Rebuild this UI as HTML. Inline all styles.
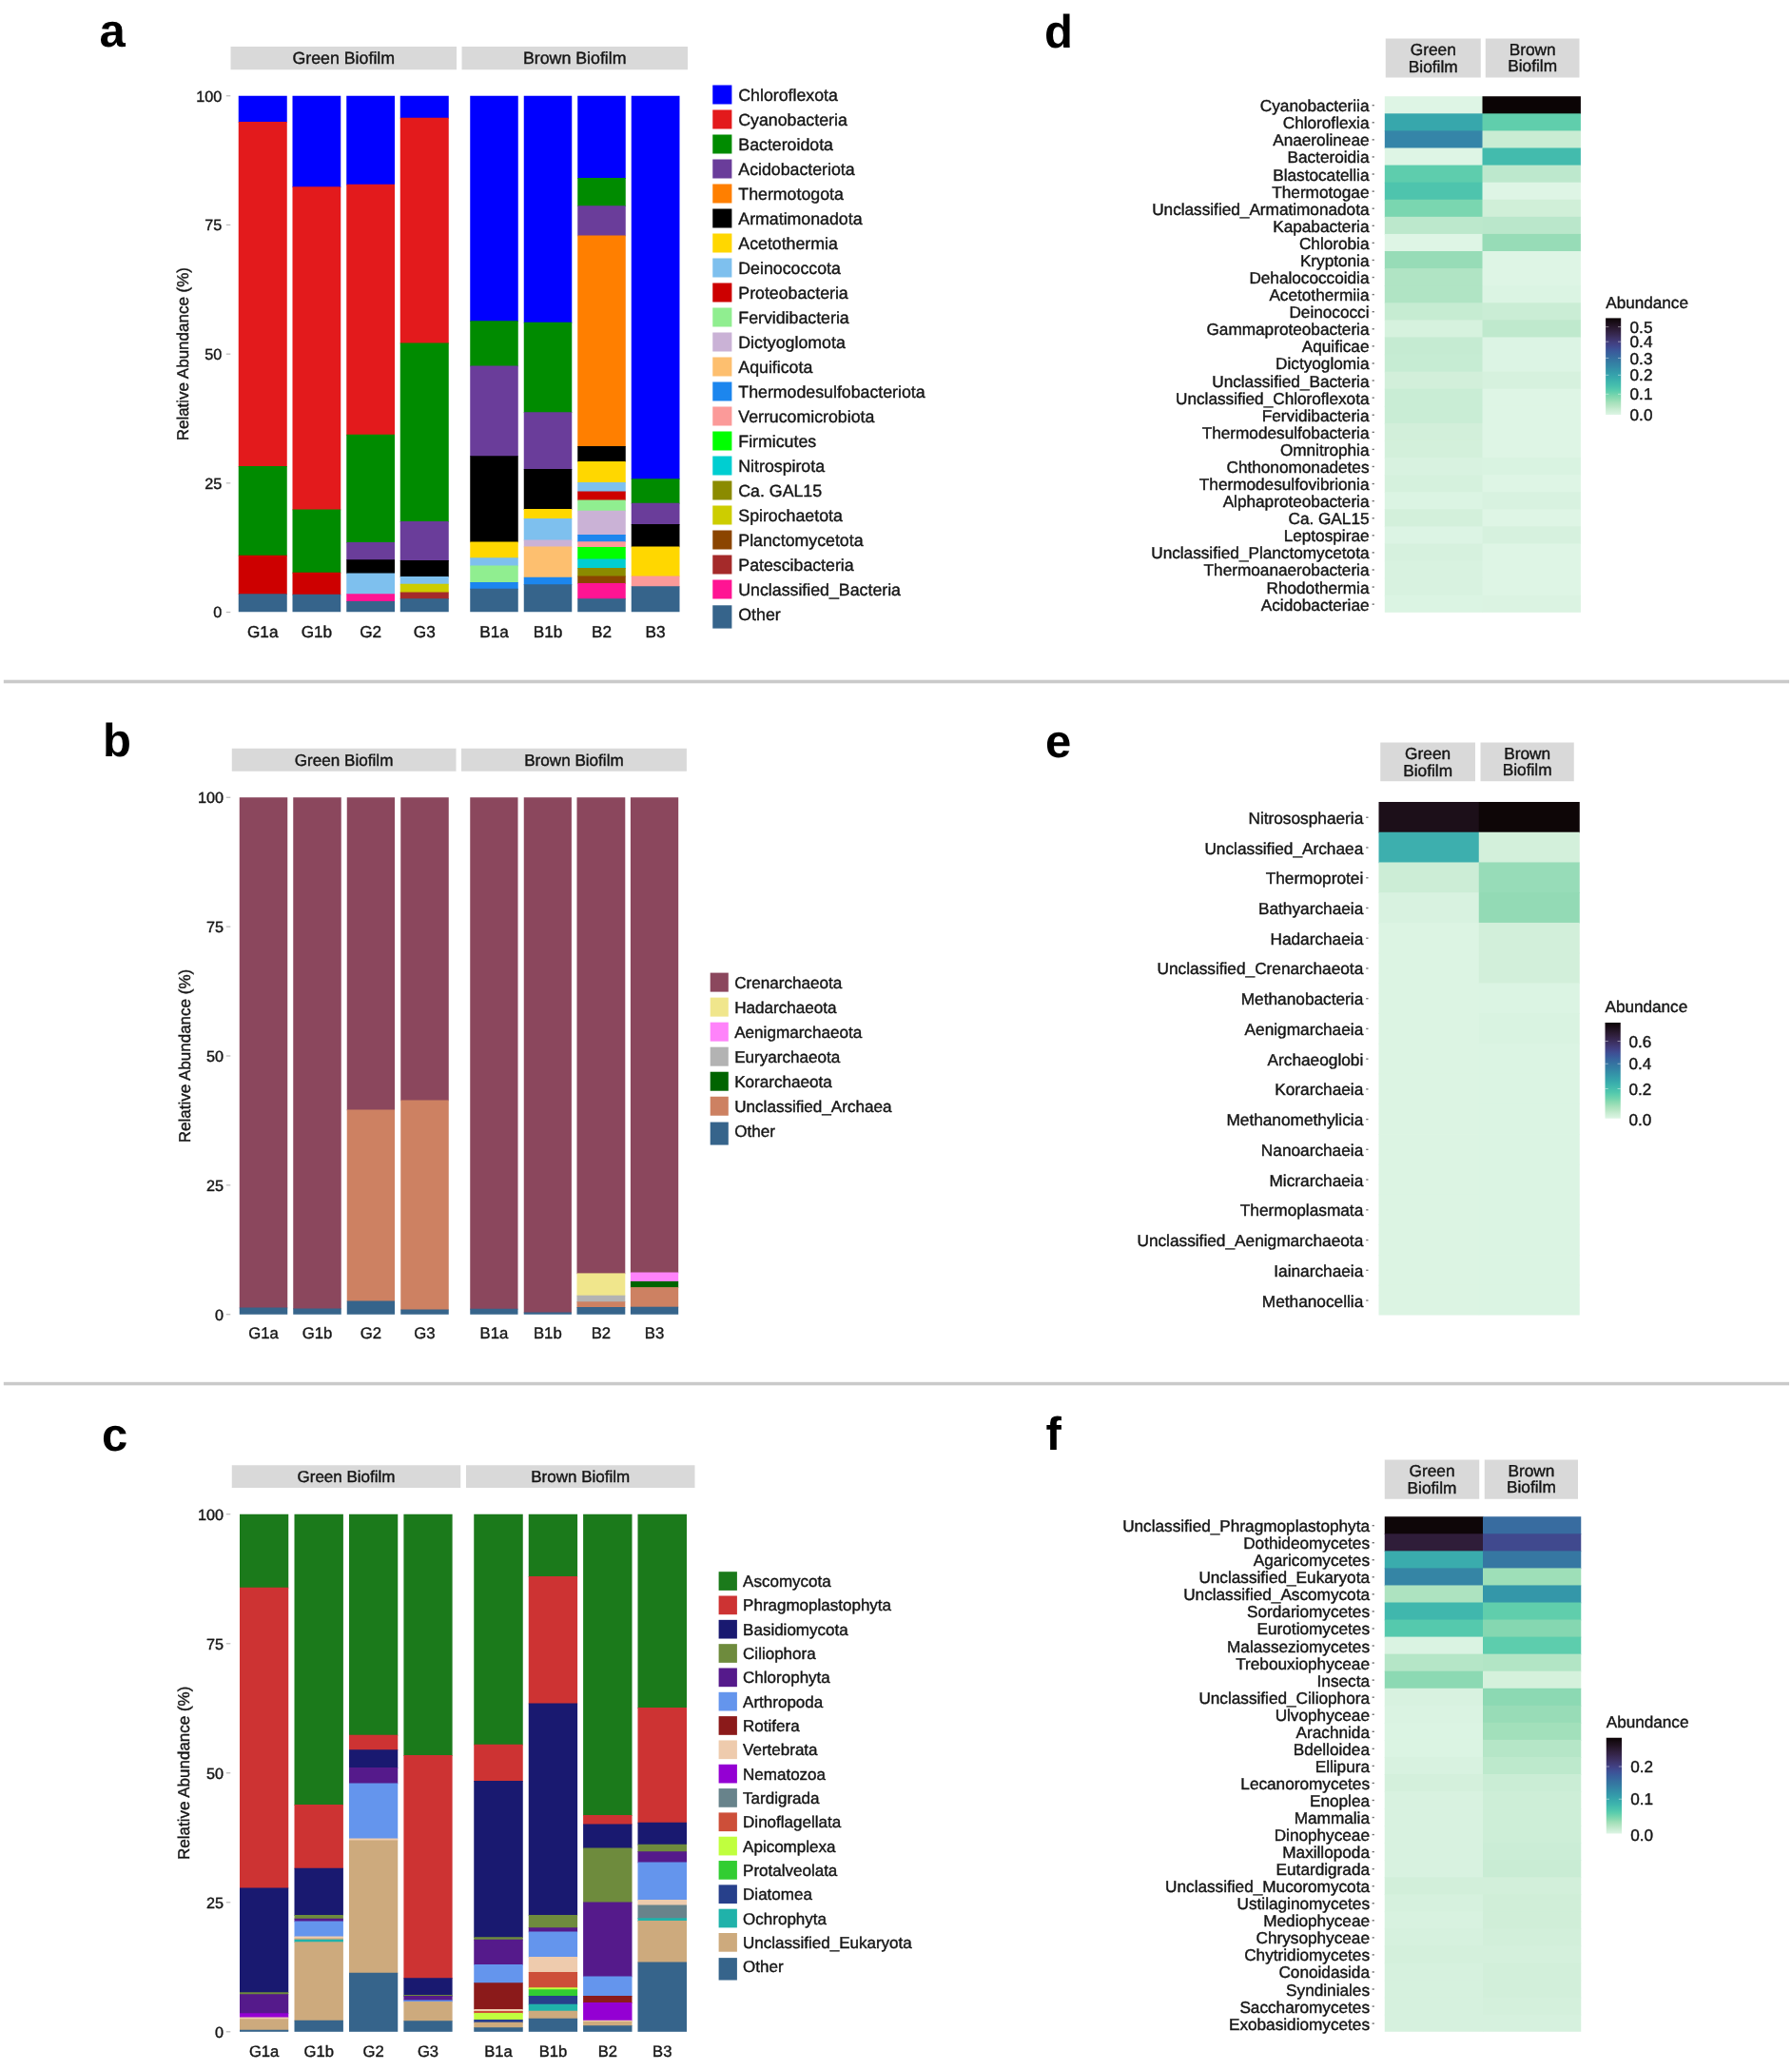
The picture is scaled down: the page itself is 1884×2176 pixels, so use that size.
<!DOCTYPE html>
<html><head><meta charset="utf-8"><title>Figure</title>
<style>
html,body{margin:0;padding:0;background:#fff;}
svg{display:block;filter:blur(0.6px);}
text{font-family:"Liberation Sans",sans-serif;stroke:#151515;stroke-width:0.4px;}
text.pl{stroke:none;}
</style></head>
<body>
<svg width="1884" height="2176" viewBox="0 0 1884 2176" text-rendering="geometricPrecision">
<rect x="0" y="0" width="1884" height="2176" fill="#ffffff"/>
<rect x="3.80" y="714.70" width="1877.20" height="3.60" fill="#cacaca"/>
<rect x="3.80" y="1452.80" width="1877.20" height="3.50" fill="#cacaca"/>
<text x="104.50" y="49.00" font-size="49" text-anchor="start" font-weight="bold" fill="#000" class="pl">a</text>
<text x="108.00" y="795.00" font-size="49" text-anchor="start" font-weight="bold" fill="#000" class="pl">b</text>
<text x="107.00" y="1524.50" font-size="49" text-anchor="start" font-weight="bold" fill="#000" class="pl">c</text>
<text x="1098.00" y="50.00" font-size="49" text-anchor="start" font-weight="bold" fill="#000" class="pl">d</text>
<text x="1099.00" y="795.50" font-size="49" text-anchor="start" font-weight="bold" fill="#000" class="pl">e</text>
<text x="1099.50" y="1523.75" font-size="49" text-anchor="start" font-weight="bold" fill="#000" class="pl">f</text>
<rect x="242.50" y="49.00" width="237.50" height="24.25" fill="#d9d9d9"/>
<rect x="485.50" y="49.00" width="237.50" height="24.25" fill="#d9d9d9"/>
<text x="361.25" y="67.40" font-size="17.8" text-anchor="middle" fill="#151515">Green Biofilm</text>
<text x="604.25" y="67.40" font-size="17.8" text-anchor="middle" fill="#151515">Brown Biofilm</text>
<rect x="250.75" y="100.75" width="51.00" height="28.05" fill="#0000FF"/>
<rect x="250.75" y="128.00" width="51.00" height="362.80" fill="#E31A1C"/>
<rect x="250.75" y="490.00" width="51.00" height="94.55" fill="#008B00"/>
<rect x="250.75" y="583.75" width="51.00" height="41.30" fill="#CD0000"/>
<rect x="250.75" y="624.25" width="51.00" height="19.00" fill="#36648B"/>
<rect x="307.50" y="100.75" width="50.75" height="96.30" fill="#0000FF"/>
<rect x="307.50" y="196.25" width="50.75" height="340.05" fill="#E31A1C"/>
<rect x="307.50" y="535.50" width="50.75" height="67.05" fill="#008B00"/>
<rect x="307.50" y="601.75" width="50.75" height="23.80" fill="#CD0000"/>
<rect x="307.50" y="624.75" width="50.75" height="18.50" fill="#36648B"/>
<rect x="364.25" y="100.75" width="50.75" height="93.80" fill="#0000FF"/>
<rect x="364.25" y="193.75" width="50.75" height="263.80" fill="#E31A1C"/>
<rect x="364.25" y="456.75" width="50.75" height="114.05" fill="#008B00"/>
<rect x="364.25" y="570.00" width="50.75" height="19.05" fill="#6A3D9A"/>
<rect x="364.25" y="588.25" width="50.75" height="15.05" fill="#000000"/>
<rect x="364.25" y="602.50" width="50.75" height="22.55" fill="#7EC0EE"/>
<rect x="364.25" y="624.25" width="50.75" height="8.55" fill="#FF1493"/>
<rect x="364.25" y="632.00" width="50.75" height="11.25" fill="#36648B"/>
<rect x="420.75" y="100.75" width="51.00" height="23.80" fill="#0000FF"/>
<rect x="420.75" y="123.75" width="51.00" height="237.55" fill="#E31A1C"/>
<rect x="420.75" y="360.50" width="51.00" height="188.30" fill="#008B00"/>
<rect x="420.75" y="548.00" width="51.00" height="41.80" fill="#6A3D9A"/>
<rect x="420.75" y="589.00" width="51.00" height="17.80" fill="#000000"/>
<rect x="420.75" y="606.00" width="51.00" height="8.55" fill="#7EC0EE"/>
<rect x="420.75" y="613.75" width="51.00" height="9.55" fill="#CDCD00"/>
<rect x="420.75" y="622.50" width="51.00" height="7.55" fill="#A52A2A"/>
<rect x="420.75" y="629.25" width="51.00" height="14.00" fill="#36648B"/>
<rect x="494.25" y="100.75" width="50.50" height="237.30" fill="#0000FF"/>
<rect x="494.25" y="337.25" width="50.50" height="48.05" fill="#008B00"/>
<rect x="494.25" y="384.50" width="50.50" height="95.55" fill="#6A3D9A"/>
<rect x="494.25" y="479.25" width="50.50" height="91.05" fill="#000000"/>
<rect x="494.25" y="569.50" width="50.50" height="17.55" fill="#FFD700"/>
<rect x="494.25" y="586.25" width="50.50" height="9.05" fill="#7EC0EE"/>
<rect x="494.25" y="594.50" width="50.50" height="18.30" fill="#90EE90"/>
<rect x="494.25" y="612.00" width="50.50" height="7.55" fill="#1C86EE"/>
<rect x="494.25" y="618.75" width="50.50" height="24.50" fill="#36648B"/>
<rect x="550.75" y="100.75" width="50.50" height="238.80" fill="#0000FF"/>
<rect x="550.75" y="338.75" width="50.50" height="95.30" fill="#008B00"/>
<rect x="550.75" y="433.25" width="50.50" height="60.55" fill="#6A3D9A"/>
<rect x="550.75" y="493.00" width="50.50" height="42.80" fill="#000000"/>
<rect x="550.75" y="535.00" width="50.50" height="10.80" fill="#FFD700"/>
<rect x="550.75" y="545.00" width="50.50" height="23.30" fill="#7EC0EE"/>
<rect x="550.75" y="567.50" width="50.50" height="7.80" fill="#CAB2D6"/>
<rect x="550.75" y="574.50" width="50.50" height="33.05" fill="#FDBF6F"/>
<rect x="550.75" y="606.75" width="50.50" height="8.30" fill="#1C86EE"/>
<rect x="550.75" y="614.25" width="50.50" height="29.00" fill="#36648B"/>
<rect x="607.25" y="100.75" width="50.50" height="87.05" fill="#0000FF"/>
<rect x="607.25" y="187.00" width="50.50" height="30.05" fill="#008B00"/>
<rect x="607.25" y="216.25" width="50.50" height="32.05" fill="#6A3D9A"/>
<rect x="607.25" y="247.50" width="50.50" height="222.30" fill="#FF7F00"/>
<rect x="607.25" y="469.00" width="50.50" height="16.80" fill="#000000"/>
<rect x="607.25" y="485.00" width="50.50" height="22.80" fill="#FFD700"/>
<rect x="607.25" y="507.00" width="50.50" height="10.30" fill="#7EC0EE"/>
<rect x="607.25" y="516.50" width="50.50" height="9.80" fill="#CD0000"/>
<rect x="607.25" y="525.50" width="50.50" height="12.05" fill="#90EE90"/>
<rect x="607.25" y="536.75" width="50.50" height="26.05" fill="#CAB2D6"/>
<rect x="607.25" y="562.00" width="50.50" height="8.05" fill="#1C86EE"/>
<rect x="607.25" y="569.25" width="50.50" height="6.55" fill="#FB9A99"/>
<rect x="607.25" y="575.00" width="50.50" height="13.30" fill="#00FF00"/>
<rect x="607.25" y="587.50" width="50.50" height="10.30" fill="#00CED1"/>
<rect x="607.25" y="597.00" width="50.50" height="9.30" fill="#8B8B00"/>
<rect x="607.25" y="605.50" width="50.50" height="8.30" fill="#8B4500"/>
<rect x="607.25" y="613.00" width="50.50" height="17.05" fill="#FF1493"/>
<rect x="607.25" y="629.25" width="50.50" height="14.00" fill="#36648B"/>
<rect x="663.75" y="100.75" width="50.75" height="403.30" fill="#0000FF"/>
<rect x="663.75" y="503.25" width="50.75" height="26.30" fill="#008B00"/>
<rect x="663.75" y="528.75" width="50.75" height="23.05" fill="#6A3D9A"/>
<rect x="663.75" y="551.00" width="50.75" height="24.30" fill="#000000"/>
<rect x="663.75" y="574.50" width="50.75" height="31.80" fill="#FFD700"/>
<rect x="663.75" y="605.50" width="50.75" height="11.55" fill="#FB9A99"/>
<rect x="663.75" y="616.25" width="50.75" height="27.00" fill="#36648B"/>
<text x="233.30" y="649.35" font-size="16.2" text-anchor="end" fill="#151515">0</text>
<rect x="237.80" y="642.95" width="4.50" height="1.20" fill="#b8b8b8"/>
<text x="233.30" y="513.65" font-size="16.2" text-anchor="end" fill="#151515">25</text>
<rect x="237.80" y="507.25" width="4.50" height="1.20" fill="#b8b8b8"/>
<text x="233.30" y="377.95" font-size="16.2" text-anchor="end" fill="#151515">50</text>
<rect x="237.80" y="371.55" width="4.50" height="1.20" fill="#b8b8b8"/>
<text x="233.30" y="242.25" font-size="16.2" text-anchor="end" fill="#151515">75</text>
<rect x="237.80" y="235.85" width="4.50" height="1.20" fill="#b8b8b8"/>
<text x="233.30" y="106.55" font-size="16.2" text-anchor="end" fill="#151515">100</text>
<rect x="237.80" y="100.15" width="4.50" height="1.20" fill="#b8b8b8"/>
<text x="198.00" y="372.15" font-size="17.0" text-anchor="middle" fill="#151515" transform="rotate(-90 198.00 372.15)">Relative Abundance (%)</text>
<text x="276.25" y="669.50" font-size="17.2" text-anchor="middle" fill="#151515">G1a</text>
<text x="332.88" y="669.50" font-size="17.2" text-anchor="middle" fill="#151515">G1b</text>
<text x="389.62" y="669.50" font-size="17.2" text-anchor="middle" fill="#151515">G2</text>
<text x="446.25" y="669.50" font-size="17.2" text-anchor="middle" fill="#151515">G3</text>
<text x="519.50" y="669.50" font-size="17.2" text-anchor="middle" fill="#151515">B1a</text>
<text x="576.00" y="669.50" font-size="17.2" text-anchor="middle" fill="#151515">B1b</text>
<text x="632.50" y="669.50" font-size="17.2" text-anchor="middle" fill="#151515">B2</text>
<text x="689.12" y="669.50" font-size="17.2" text-anchor="middle" fill="#151515">B3</text>
<rect x="749.25" y="89.50" width="20.15" height="20.00" fill="#0000FF"/>
<text x="776.30" y="106.00" font-size="17.75" text-anchor="start" fill="#151515">Chloroflexota</text>
<rect x="749.25" y="115.50" width="20.15" height="20.00" fill="#E31A1C"/>
<text x="776.30" y="132.00" font-size="17.75" text-anchor="start" fill="#151515">Cyanobacteria</text>
<rect x="749.25" y="141.50" width="20.15" height="20.00" fill="#008B00"/>
<text x="776.30" y="158.00" font-size="17.75" text-anchor="start" fill="#151515">Bacteroidota</text>
<rect x="749.25" y="167.50" width="20.15" height="20.00" fill="#6A3D9A"/>
<text x="776.30" y="184.00" font-size="17.75" text-anchor="start" fill="#151515">Acidobacteriota</text>
<rect x="749.25" y="193.50" width="20.15" height="20.00" fill="#FF7F00"/>
<text x="776.30" y="210.00" font-size="17.75" text-anchor="start" fill="#151515">Thermotogota</text>
<rect x="749.25" y="219.50" width="20.15" height="20.00" fill="#000000"/>
<text x="776.30" y="236.00" font-size="17.75" text-anchor="start" fill="#151515">Armatimonadota</text>
<rect x="749.25" y="245.50" width="20.15" height="20.00" fill="#FFD700"/>
<text x="776.30" y="262.00" font-size="17.75" text-anchor="start" fill="#151515">Acetothermia</text>
<rect x="749.25" y="271.50" width="20.15" height="20.00" fill="#7EC0EE"/>
<text x="776.30" y="288.00" font-size="17.75" text-anchor="start" fill="#151515">Deinococcota</text>
<rect x="749.25" y="297.50" width="20.15" height="20.00" fill="#CD0000"/>
<text x="776.30" y="314.00" font-size="17.75" text-anchor="start" fill="#151515">Proteobacteria</text>
<rect x="749.25" y="323.50" width="20.15" height="20.00" fill="#90EE90"/>
<text x="776.30" y="340.00" font-size="17.75" text-anchor="start" fill="#151515">Fervidibacteria</text>
<rect x="749.25" y="349.50" width="20.15" height="20.00" fill="#CAB2D6"/>
<text x="776.30" y="366.00" font-size="17.75" text-anchor="start" fill="#151515">Dictyoglomota</text>
<rect x="749.25" y="375.50" width="20.15" height="20.00" fill="#FDBF6F"/>
<text x="776.30" y="392.00" font-size="17.75" text-anchor="start" fill="#151515">Aquificota</text>
<rect x="749.25" y="401.50" width="20.15" height="20.00" fill="#1C86EE"/>
<text x="776.30" y="418.00" font-size="17.75" text-anchor="start" fill="#151515">Thermodesulfobacteriota</text>
<rect x="749.25" y="427.50" width="20.15" height="20.00" fill="#FB9A99"/>
<text x="776.30" y="444.00" font-size="17.75" text-anchor="start" fill="#151515">Verrucomicrobiota</text>
<rect x="749.25" y="453.50" width="20.15" height="20.00" fill="#00FF00"/>
<text x="776.30" y="470.00" font-size="17.75" text-anchor="start" fill="#151515">Firmicutes</text>
<rect x="749.25" y="479.50" width="20.15" height="20.00" fill="#00CED1"/>
<text x="776.30" y="496.00" font-size="17.75" text-anchor="start" fill="#151515">Nitrospirota</text>
<rect x="749.25" y="505.50" width="20.15" height="20.00" fill="#8B8B00"/>
<text x="776.30" y="522.00" font-size="17.75" text-anchor="start" fill="#151515">Ca. GAL15</text>
<rect x="749.25" y="531.50" width="20.15" height="20.00" fill="#CDCD00"/>
<text x="776.30" y="548.00" font-size="17.75" text-anchor="start" fill="#151515">Spirochaetota</text>
<rect x="749.25" y="557.50" width="20.15" height="20.00" fill="#8B4500"/>
<text x="776.30" y="574.00" font-size="17.75" text-anchor="start" fill="#151515">Planctomycetota</text>
<rect x="749.25" y="583.50" width="20.15" height="20.00" fill="#A52A2A"/>
<text x="776.30" y="600.00" font-size="17.75" text-anchor="start" fill="#151515">Patescibacteria</text>
<rect x="749.25" y="609.50" width="20.15" height="20.00" fill="#FF1493"/>
<text x="776.30" y="626.00" font-size="17.75" text-anchor="start" fill="#151515">Unclassified_Bacteria</text>
<rect x="749.25" y="636.30" width="20.15" height="24.30" fill="#36648B"/>
<text x="776.30" y="652.00" font-size="17.75" text-anchor="start" fill="#151515">Other</text>
<rect x="243.75" y="786.75" width="235.75" height="24.00" fill="#d9d9d9"/>
<rect x="485.00" y="786.75" width="236.90" height="24.00" fill="#d9d9d9"/>
<text x="361.62" y="804.80" font-size="17.1" text-anchor="middle" fill="#151515">Green Biofilm</text>
<text x="603.45" y="804.80" font-size="17.1" text-anchor="middle" fill="#151515">Brown Biofilm</text>
<rect x="251.75" y="838.25" width="50.50" height="537.05" fill="#8B475D"/>
<rect x="251.75" y="1374.50" width="50.50" height="7.25" fill="#36648B"/>
<rect x="308.25" y="838.25" width="50.50" height="538.05" fill="#8B475D"/>
<rect x="308.25" y="1375.50" width="50.50" height="6.25" fill="#36648B"/>
<rect x="364.75" y="838.25" width="50.25" height="329.05" fill="#8B475D"/>
<rect x="364.75" y="1166.50" width="50.25" height="201.80" fill="#CD8162"/>
<rect x="364.75" y="1367.50" width="50.25" height="14.25" fill="#36648B"/>
<rect x="421.25" y="838.25" width="50.50" height="319.05" fill="#8B475D"/>
<rect x="421.25" y="1156.50" width="50.50" height="220.80" fill="#CD8162"/>
<rect x="421.25" y="1376.50" width="50.50" height="5.25" fill="#36648B"/>
<rect x="494.25" y="838.25" width="50.25" height="538.30" fill="#8B475D"/>
<rect x="494.25" y="1375.75" width="50.25" height="6.00" fill="#36648B"/>
<rect x="550.75" y="838.25" width="50.15" height="542.05" fill="#8B475D"/>
<rect x="550.75" y="1379.50" width="50.15" height="2.25" fill="#36648B"/>
<rect x="606.50" y="838.25" width="50.80" height="500.95" fill="#8B475D"/>
<rect x="606.50" y="1338.40" width="50.80" height="24.10" fill="#F0E68C"/>
<rect x="606.50" y="1361.70" width="50.80" height="7.40" fill="#B3B3B3"/>
<rect x="606.50" y="1368.30" width="50.80" height="6.50" fill="#CD8162"/>
<rect x="606.50" y="1374.00" width="50.80" height="7.75" fill="#36648B"/>
<rect x="662.90" y="838.25" width="50.30" height="500.05" fill="#8B475D"/>
<rect x="662.90" y="1337.50" width="50.30" height="10.20" fill="#FF83FA"/>
<rect x="662.90" y="1346.90" width="50.30" height="7.00" fill="#006400"/>
<rect x="662.90" y="1353.10" width="50.30" height="21.40" fill="#CD8162"/>
<rect x="662.90" y="1373.70" width="50.30" height="8.05" fill="#36648B"/>
<text x="235.00" y="1387.55" font-size="16.2" text-anchor="end" fill="#151515">0</text>
<rect x="237.80" y="1381.15" width="4.50" height="1.20" fill="#b8b8b8"/>
<text x="235.00" y="1251.67" font-size="16.2" text-anchor="end" fill="#151515">25</text>
<rect x="237.80" y="1245.28" width="4.50" height="1.20" fill="#b8b8b8"/>
<text x="235.00" y="1115.80" font-size="16.2" text-anchor="end" fill="#151515">50</text>
<rect x="237.80" y="1109.40" width="4.50" height="1.20" fill="#b8b8b8"/>
<text x="235.00" y="979.92" font-size="16.2" text-anchor="end" fill="#151515">75</text>
<rect x="237.80" y="973.52" width="4.50" height="1.20" fill="#b8b8b8"/>
<text x="235.00" y="844.05" font-size="16.2" text-anchor="end" fill="#151515">100</text>
<rect x="237.80" y="837.65" width="4.50" height="1.20" fill="#b8b8b8"/>
<text x="199.50" y="1110.00" font-size="17.0" text-anchor="middle" fill="#151515" transform="rotate(-90 199.50 1110.00)">Relative Abundance (%)</text>
<text x="277.00" y="1407.00" font-size="16.7" text-anchor="middle" fill="#151515">G1a</text>
<text x="333.50" y="1407.00" font-size="16.7" text-anchor="middle" fill="#151515">G1b</text>
<text x="389.88" y="1407.00" font-size="16.7" text-anchor="middle" fill="#151515">G2</text>
<text x="446.50" y="1407.00" font-size="16.7" text-anchor="middle" fill="#151515">G3</text>
<text x="519.38" y="1407.00" font-size="16.7" text-anchor="middle" fill="#151515">B1a</text>
<text x="575.83" y="1407.00" font-size="16.7" text-anchor="middle" fill="#151515">B1b</text>
<text x="631.90" y="1407.00" font-size="16.7" text-anchor="middle" fill="#151515">B2</text>
<text x="688.05" y="1407.00" font-size="16.7" text-anchor="middle" fill="#151515">B3</text>
<rect x="746.70" y="1022.60" width="19.10" height="20.00" fill="#8B475D"/>
<text x="772.20" y="1038.70" font-size="17.1" text-anchor="start" fill="#151515">Crenarchaeota</text>
<rect x="746.70" y="1048.63" width="19.10" height="20.00" fill="#F0E68C"/>
<text x="772.20" y="1064.73" font-size="17.1" text-anchor="start" fill="#151515">Hadarchaeota</text>
<rect x="746.70" y="1074.66" width="19.10" height="20.00" fill="#FF83FA"/>
<text x="772.20" y="1090.76" font-size="17.1" text-anchor="start" fill="#151515">Aenigmarchaeota</text>
<rect x="746.70" y="1100.69" width="19.10" height="20.00" fill="#B3B3B3"/>
<text x="772.20" y="1116.79" font-size="17.1" text-anchor="start" fill="#151515">Euryarchaeota</text>
<rect x="746.70" y="1126.72" width="19.10" height="20.00" fill="#006400"/>
<text x="772.20" y="1142.82" font-size="17.1" text-anchor="start" fill="#151515">Korarchaeota</text>
<rect x="746.70" y="1152.75" width="19.10" height="20.00" fill="#CD8162"/>
<text x="772.20" y="1168.85" font-size="17.1" text-anchor="start" fill="#151515">Unclassified_Archaea</text>
<rect x="746.70" y="1179.58" width="19.10" height="24.00" fill="#36648B"/>
<text x="772.20" y="1194.88" font-size="17.1" text-anchor="start" fill="#151515">Other</text>
<rect x="243.75" y="1540.25" width="240.50" height="23.75" fill="#d9d9d9"/>
<rect x="490.00" y="1540.25" width="240.50" height="23.75" fill="#d9d9d9"/>
<text x="364.00" y="1558.20" font-size="17.0" text-anchor="middle" fill="#151515">Green Biofilm</text>
<text x="610.25" y="1558.20" font-size="17.0" text-anchor="middle" fill="#151515">Brown Biofilm</text>
<rect x="252.00" y="1591.75" width="51.25" height="77.80" fill="#1B7A1B"/>
<rect x="252.00" y="1668.75" width="51.25" height="316.55" fill="#CD3333"/>
<rect x="252.00" y="1984.50" width="51.25" height="110.55" fill="#191970"/>
<rect x="252.00" y="2094.25" width="51.25" height="2.80" fill="#6E8B3D"/>
<rect x="252.00" y="2096.25" width="51.25" height="20.80" fill="#551A8B"/>
<rect x="252.00" y="2116.25" width="51.25" height="5.05" fill="#9400D3"/>
<rect x="252.00" y="2120.50" width="51.25" height="2.60" fill="#EECBAD"/>
<rect x="252.00" y="2122.30" width="51.25" height="12.25" fill="#CDAA7D"/>
<rect x="252.00" y="2133.75" width="51.25" height="2.05" fill="#36648B"/>
<rect x="309.50" y="1591.75" width="51.40" height="306.05" fill="#1B7A1B"/>
<rect x="309.50" y="1897.00" width="51.40" height="67.55" fill="#CD3333"/>
<rect x="309.50" y="1963.75" width="51.40" height="50.05" fill="#191970"/>
<rect x="309.50" y="2013.00" width="51.40" height="4.55" fill="#6E8B3D"/>
<rect x="309.50" y="2016.75" width="51.40" height="3.55" fill="#551A8B"/>
<rect x="309.50" y="2019.50" width="51.40" height="16.80" fill="#6495ED"/>
<rect x="309.50" y="2035.50" width="51.40" height="2.80" fill="#EECBAD"/>
<rect x="309.50" y="2037.50" width="51.40" height="2.05" fill="#CDAA7D"/>
<rect x="309.50" y="2038.75" width="51.40" height="3.30" fill="#20B2AA"/>
<rect x="309.50" y="2041.25" width="51.40" height="83.30" fill="#CDAA7D"/>
<rect x="309.50" y="2123.75" width="51.40" height="12.05" fill="#36648B"/>
<rect x="367.00" y="1591.75" width="51.25" height="232.80" fill="#1B7A1B"/>
<rect x="367.00" y="1823.75" width="51.25" height="16.30" fill="#CD3333"/>
<rect x="367.00" y="1839.25" width="51.25" height="19.55" fill="#191970"/>
<rect x="367.00" y="1858.00" width="51.25" height="17.30" fill="#551A8B"/>
<rect x="367.00" y="1874.50" width="51.25" height="58.80" fill="#6495ED"/>
<rect x="367.00" y="1932.50" width="51.25" height="2.80" fill="#EECBAD"/>
<rect x="367.00" y="1934.50" width="51.25" height="140.05" fill="#CDAA7D"/>
<rect x="367.00" y="2073.75" width="51.25" height="62.05" fill="#36648B"/>
<rect x="424.40" y="1591.75" width="51.20" height="254.05" fill="#1B7A1B"/>
<rect x="424.40" y="1845.00" width="51.20" height="235.05" fill="#CD3333"/>
<rect x="424.40" y="2079.25" width="51.20" height="18.55" fill="#191970"/>
<rect x="424.40" y="2097.00" width="51.20" height="1.80" fill="#6E8B3D"/>
<rect x="424.40" y="2098.00" width="51.20" height="5.30" fill="#551A8B"/>
<rect x="424.40" y="2102.50" width="51.20" height="2.30" fill="#6495ED"/>
<rect x="424.40" y="2104.00" width="51.20" height="21.05" fill="#CDAA7D"/>
<rect x="424.40" y="2124.25" width="51.20" height="11.55" fill="#36648B"/>
<rect x="498.25" y="1591.75" width="51.50" height="242.80" fill="#1B7A1B"/>
<rect x="498.25" y="1833.75" width="51.50" height="39.05" fill="#CD3333"/>
<rect x="498.25" y="1872.00" width="51.50" height="165.05" fill="#191970"/>
<rect x="498.25" y="2036.25" width="51.50" height="3.30" fill="#6E8B3D"/>
<rect x="498.25" y="2038.75" width="51.50" height="27.05" fill="#551A8B"/>
<rect x="498.25" y="2065.00" width="51.50" height="20.05" fill="#6495ED"/>
<rect x="498.25" y="2084.25" width="51.50" height="28.55" fill="#8B1A1A"/>
<rect x="498.25" y="2112.00" width="51.50" height="2.80" fill="#EECBAD"/>
<rect x="498.25" y="2114.00" width="51.50" height="2.80" fill="#CD4F39"/>
<rect x="498.25" y="2116.00" width="51.50" height="7.80" fill="#C0FF3E"/>
<rect x="498.25" y="2123.00" width="51.50" height="3.55" fill="#27408B"/>
<rect x="498.25" y="2125.75" width="51.50" height="6.30" fill="#CDAA7D"/>
<rect x="498.25" y="2131.25" width="51.50" height="4.55" fill="#36648B"/>
<rect x="555.75" y="1591.75" width="51.35" height="66.05" fill="#1B7A1B"/>
<rect x="555.75" y="1657.00" width="51.35" height="134.30" fill="#CD3333"/>
<rect x="555.75" y="1790.50" width="51.35" height="223.30" fill="#191970"/>
<rect x="555.75" y="2013.00" width="51.35" height="14.05" fill="#6E8B3D"/>
<rect x="555.75" y="2026.25" width="51.35" height="5.05" fill="#551A8B"/>
<rect x="555.75" y="2030.50" width="51.35" height="27.30" fill="#6495ED"/>
<rect x="555.75" y="2057.00" width="51.35" height="16.80" fill="#EECBAD"/>
<rect x="555.75" y="2073.00" width="51.35" height="17.05" fill="#CD4F39"/>
<rect x="555.75" y="2089.25" width="51.35" height="2.80" fill="#C0FF3E"/>
<rect x="555.75" y="2091.25" width="51.35" height="7.55" fill="#32CD32"/>
<rect x="555.75" y="2098.00" width="51.35" height="9.55" fill="#27408B"/>
<rect x="555.75" y="2106.75" width="51.35" height="7.80" fill="#20B2AA"/>
<rect x="555.75" y="2113.75" width="51.35" height="8.80" fill="#CDAA7D"/>
<rect x="555.75" y="2121.75" width="51.35" height="14.05" fill="#36648B"/>
<rect x="613.10" y="1591.75" width="51.40" height="317.05" fill="#1B7A1B"/>
<rect x="613.10" y="1908.00" width="51.40" height="10.30" fill="#CD3333"/>
<rect x="613.10" y="1917.50" width="51.40" height="25.80" fill="#191970"/>
<rect x="613.10" y="1942.50" width="51.40" height="57.80" fill="#6E8B3D"/>
<rect x="613.10" y="1999.50" width="51.40" height="78.80" fill="#551A8B"/>
<rect x="613.10" y="2077.50" width="51.40" height="21.30" fill="#6495ED"/>
<rect x="613.10" y="2098.00" width="51.40" height="7.80" fill="#8B1A1A"/>
<rect x="613.10" y="2105.00" width="51.40" height="19.55" fill="#9400D3"/>
<rect x="613.10" y="2123.75" width="51.40" height="2.05" fill="#EECBAD"/>
<rect x="613.10" y="2125.00" width="51.40" height="5.05" fill="#CDAA7D"/>
<rect x="613.10" y="2129.25" width="51.40" height="6.55" fill="#36648B"/>
<rect x="670.50" y="1591.75" width="51.50" height="204.05" fill="#1B7A1B"/>
<rect x="670.50" y="1795.00" width="51.50" height="121.55" fill="#CD3333"/>
<rect x="670.50" y="1915.75" width="51.50" height="23.80" fill="#191970"/>
<rect x="670.50" y="1938.75" width="51.50" height="8.30" fill="#6E8B3D"/>
<rect x="670.50" y="1946.25" width="51.50" height="12.05" fill="#551A8B"/>
<rect x="670.50" y="1957.50" width="51.50" height="40.30" fill="#6495ED"/>
<rect x="670.50" y="1997.00" width="51.50" height="6.30" fill="#EECBAD"/>
<rect x="670.50" y="2002.50" width="51.50" height="14.55" fill="#68838B"/>
<rect x="670.50" y="2016.25" width="51.50" height="3.55" fill="#20B2AA"/>
<rect x="670.50" y="2019.00" width="51.50" height="44.30" fill="#CDAA7D"/>
<rect x="670.50" y="2062.50" width="51.50" height="73.30" fill="#36648B"/>
<text x="235.00" y="2141.60" font-size="16.2" text-anchor="end" fill="#151515">0</text>
<rect x="237.80" y="2135.20" width="4.50" height="1.20" fill="#b8b8b8"/>
<text x="235.00" y="2005.59" font-size="16.2" text-anchor="end" fill="#151515">25</text>
<rect x="237.80" y="1999.19" width="4.50" height="1.20" fill="#b8b8b8"/>
<text x="235.00" y="1869.57" font-size="16.2" text-anchor="end" fill="#151515">50</text>
<rect x="237.80" y="1863.18" width="4.50" height="1.20" fill="#b8b8b8"/>
<text x="235.00" y="1733.56" font-size="16.2" text-anchor="end" fill="#151515">75</text>
<rect x="237.80" y="1727.16" width="4.50" height="1.20" fill="#b8b8b8"/>
<text x="235.00" y="1597.55" font-size="16.2" text-anchor="end" fill="#151515">100</text>
<rect x="237.80" y="1591.15" width="4.50" height="1.20" fill="#b8b8b8"/>
<text x="199.50" y="1863.78" font-size="17.0" text-anchor="middle" fill="#151515" transform="rotate(-90 199.50 1863.78)">Relative Abundance (%)</text>
<text x="277.62" y="2161.75" font-size="16.6" text-anchor="middle" fill="#151515">G1a</text>
<text x="335.20" y="2161.75" font-size="16.6" text-anchor="middle" fill="#151515">G1b</text>
<text x="392.62" y="2161.75" font-size="16.6" text-anchor="middle" fill="#151515">G2</text>
<text x="450.00" y="2161.75" font-size="16.6" text-anchor="middle" fill="#151515">G3</text>
<text x="524.00" y="2161.75" font-size="16.6" text-anchor="middle" fill="#151515">B1a</text>
<text x="581.42" y="2161.75" font-size="16.6" text-anchor="middle" fill="#151515">B1b</text>
<text x="638.80" y="2161.75" font-size="16.6" text-anchor="middle" fill="#151515">B2</text>
<text x="696.25" y="2161.75" font-size="16.6" text-anchor="middle" fill="#151515">B3</text>
<rect x="755.60" y="1652.20" width="19.30" height="19.70" fill="#1B7A1B"/>
<text x="781.10" y="1668.05" font-size="17.0" text-anchor="start" fill="#151515">Ascomycota</text>
<rect x="755.60" y="1677.52" width="19.30" height="19.70" fill="#CD3333"/>
<text x="781.10" y="1693.37" font-size="17.0" text-anchor="start" fill="#151515">Phragmoplastophyta</text>
<rect x="755.60" y="1702.84" width="19.30" height="19.70" fill="#191970"/>
<text x="781.10" y="1718.69" font-size="17.0" text-anchor="start" fill="#151515">Basidiomycota</text>
<rect x="755.60" y="1728.16" width="19.30" height="19.70" fill="#6E8B3D"/>
<text x="781.10" y="1744.01" font-size="17.0" text-anchor="start" fill="#151515">Ciliophora</text>
<rect x="755.60" y="1753.48" width="19.30" height="19.70" fill="#551A8B"/>
<text x="781.10" y="1769.33" font-size="17.0" text-anchor="start" fill="#151515">Chlorophyta</text>
<rect x="755.60" y="1778.80" width="19.30" height="19.70" fill="#6495ED"/>
<text x="781.10" y="1794.65" font-size="17.0" text-anchor="start" fill="#151515">Arthropoda</text>
<rect x="755.60" y="1804.12" width="19.30" height="19.70" fill="#8B1A1A"/>
<text x="781.10" y="1819.97" font-size="17.0" text-anchor="start" fill="#151515">Rotifera</text>
<rect x="755.60" y="1829.44" width="19.30" height="19.70" fill="#EECBAD"/>
<text x="781.10" y="1845.29" font-size="17.0" text-anchor="start" fill="#151515">Vertebrata</text>
<rect x="755.60" y="1854.76" width="19.30" height="19.70" fill="#9400D3"/>
<text x="781.10" y="1870.61" font-size="17.0" text-anchor="start" fill="#151515">Nematozoa</text>
<rect x="755.60" y="1880.08" width="19.30" height="19.70" fill="#68838B"/>
<text x="781.10" y="1895.93" font-size="17.0" text-anchor="start" fill="#151515">Tardigrada</text>
<rect x="755.60" y="1905.40" width="19.30" height="19.70" fill="#CD4F39"/>
<text x="781.10" y="1921.25" font-size="17.0" text-anchor="start" fill="#151515">Dinoflagellata</text>
<rect x="755.60" y="1930.72" width="19.30" height="19.70" fill="#C0FF3E"/>
<text x="781.10" y="1946.57" font-size="17.0" text-anchor="start" fill="#151515">Apicomplexa</text>
<rect x="755.60" y="1956.04" width="19.30" height="19.70" fill="#32CD32"/>
<text x="781.10" y="1971.89" font-size="17.0" text-anchor="start" fill="#151515">Protalveolata</text>
<rect x="755.60" y="1981.36" width="19.30" height="19.70" fill="#27408B"/>
<text x="781.10" y="1997.21" font-size="17.0" text-anchor="start" fill="#151515">Diatomea</text>
<rect x="755.60" y="2006.68" width="19.30" height="19.70" fill="#20B2AA"/>
<text x="781.10" y="2022.53" font-size="17.0" text-anchor="start" fill="#151515">Ochrophyta</text>
<rect x="755.60" y="2032.00" width="19.30" height="19.70" fill="#CDAA7D"/>
<text x="781.10" y="2047.85" font-size="17.0" text-anchor="start" fill="#151515">Unclassified_Eukaryota</text>
<rect x="755.60" y="2058.12" width="19.30" height="23.40" fill="#36648B"/>
<text x="781.10" y="2073.17" font-size="17.0" text-anchor="start" fill="#151515">Other</text>
<rect x="1456.75" y="40.50" width="100.00" height="41.00" fill="#d9d9d9"/>
<rect x="1561.75" y="40.50" width="98.75" height="41.00" fill="#d9d9d9"/>
<text x="1506.75" y="58.00" font-size="17.3" text-anchor="middle" fill="#151515">Green</text>
<text x="1506.75" y="76.25" font-size="17.3" text-anchor="middle" fill="#151515">Biofilm</text>
<text x="1611.12" y="58.00" font-size="17.3" text-anchor="middle" fill="#151515">Brown</text>
<text x="1611.12" y="74.60" font-size="17.3" text-anchor="middle" fill="#151515">Biofilm</text>
<rect x="1455.80" y="101.25" width="103.20" height="18.88" fill="#def5e5"/>
<rect x="1558.50" y="101.25" width="103.40" height="18.88" fill="#0b0405"/>
<text x="1439.50" y="117.20" font-size="17.2" text-anchor="end" fill="#151515">Cyanobacteriia</text>
<rect x="1442.60" y="109.99" width="2.20" height="1.40" fill="#707070"/>
<rect x="1455.80" y="119.33" width="103.20" height="18.89" fill="#37a7ac"/>
<rect x="1558.50" y="119.33" width="103.40" height="18.89" fill="#60ceac"/>
<text x="1439.50" y="135.28" font-size="17.2" text-anchor="end" fill="#151515">Chloroflexia</text>
<rect x="1442.60" y="128.08" width="2.20" height="1.40" fill="#707070"/>
<rect x="1455.80" y="137.42" width="103.20" height="18.89" fill="#3585a8"/>
<rect x="1558.50" y="137.42" width="103.40" height="18.89" fill="#c9ecd3"/>
<text x="1439.50" y="153.37" font-size="17.2" text-anchor="end" fill="#151515">Anaerolineae</text>
<rect x="1442.60" y="146.16" width="2.20" height="1.40" fill="#707070"/>
<rect x="1455.80" y="155.50" width="103.20" height="18.88" fill="#def5e5"/>
<rect x="1558.50" y="155.50" width="103.40" height="18.88" fill="#43bbad"/>
<text x="1439.50" y="171.45" font-size="17.2" text-anchor="end" fill="#151515">Bacteroidia</text>
<rect x="1442.60" y="164.25" width="2.20" height="1.40" fill="#707070"/>
<rect x="1455.80" y="173.59" width="103.20" height="18.89" fill="#5ecdad"/>
<rect x="1558.50" y="173.59" width="103.40" height="18.89" fill="#bde8cd"/>
<text x="1439.50" y="189.54" font-size="17.2" text-anchor="end" fill="#151515">Blastocatellia</text>
<rect x="1442.60" y="182.33" width="2.20" height="1.40" fill="#707070"/>
<rect x="1455.80" y="191.67" width="103.20" height="18.89" fill="#4ec4ad"/>
<rect x="1558.50" y="191.67" width="103.40" height="18.89" fill="#def5e5"/>
<text x="1439.50" y="207.62" font-size="17.2" text-anchor="end" fill="#151515">Thermotogae</text>
<rect x="1442.60" y="200.42" width="2.20" height="1.40" fill="#707070"/>
<rect x="1455.80" y="209.76" width="103.20" height="18.88" fill="#7ad6b0"/>
<rect x="1558.50" y="209.76" width="103.40" height="18.88" fill="#d0efd8"/>
<text x="1439.50" y="225.71" font-size="17.2" text-anchor="end" fill="#151515">Unclassified_Armatimonadota</text>
<rect x="1442.60" y="218.50" width="2.20" height="1.40" fill="#707070"/>
<rect x="1455.80" y="227.84" width="103.20" height="18.89" fill="#bce8cc"/>
<rect x="1558.50" y="227.84" width="103.40" height="18.89" fill="#bae7cb"/>
<text x="1439.50" y="243.79" font-size="17.2" text-anchor="end" fill="#151515">Kapabacteria</text>
<rect x="1442.60" y="236.59" width="2.20" height="1.40" fill="#707070"/>
<rect x="1455.80" y="245.93" width="103.20" height="18.89" fill="#def5e5"/>
<rect x="1558.50" y="245.93" width="103.40" height="18.89" fill="#97dcb7"/>
<text x="1439.50" y="261.88" font-size="17.2" text-anchor="end" fill="#151515">Chlorobia</text>
<rect x="1442.60" y="254.67" width="2.20" height="1.40" fill="#707070"/>
<rect x="1455.80" y="264.01" width="103.20" height="18.88" fill="#97dcb7"/>
<rect x="1558.50" y="264.01" width="103.40" height="18.88" fill="#def5e5"/>
<text x="1439.50" y="279.96" font-size="17.2" text-anchor="end" fill="#151515">Kryptonia</text>
<rect x="1442.60" y="272.76" width="2.20" height="1.40" fill="#707070"/>
<rect x="1455.80" y="282.10" width="103.20" height="18.88" fill="#b0e4c4"/>
<rect x="1558.50" y="282.10" width="103.40" height="18.88" fill="#def5e5"/>
<text x="1439.50" y="298.05" font-size="17.2" text-anchor="end" fill="#151515">Dehalococcoidia</text>
<rect x="1442.60" y="290.84" width="2.20" height="1.40" fill="#707070"/>
<rect x="1455.80" y="300.18" width="103.20" height="18.89" fill="#b0e4c4"/>
<rect x="1558.50" y="300.18" width="103.40" height="18.89" fill="#dbf4e3"/>
<text x="1439.50" y="316.13" font-size="17.2" text-anchor="end" fill="#151515">Acetothermiia</text>
<rect x="1442.60" y="308.93" width="2.20" height="1.40" fill="#707070"/>
<rect x="1455.80" y="318.27" width="103.20" height="18.88" fill="#c6ecd2"/>
<rect x="1558.50" y="318.27" width="103.40" height="18.88" fill="#caedd5"/>
<text x="1439.50" y="334.22" font-size="17.2" text-anchor="end" fill="#151515">Deinococci</text>
<rect x="1442.60" y="327.01" width="2.20" height="1.40" fill="#707070"/>
<rect x="1455.80" y="336.35" width="103.20" height="18.88" fill="#d6f2de"/>
<rect x="1558.50" y="336.35" width="103.40" height="18.88" fill="#bfe9cd"/>
<text x="1439.50" y="352.30" font-size="17.2" text-anchor="end" fill="#151515">Gammaproteobacteria</text>
<rect x="1442.60" y="345.10" width="2.20" height="1.40" fill="#707070"/>
<rect x="1455.80" y="354.44" width="103.20" height="18.89" fill="#c5ebd2"/>
<rect x="1558.50" y="354.44" width="103.40" height="18.89" fill="#dcf4e4"/>
<text x="1439.50" y="370.39" font-size="17.2" text-anchor="end" fill="#151515">Aquificae</text>
<rect x="1442.60" y="363.18" width="2.20" height="1.40" fill="#707070"/>
<rect x="1455.80" y="372.52" width="103.20" height="18.88" fill="#c6ecd3"/>
<rect x="1558.50" y="372.52" width="103.40" height="18.88" fill="#dcf4e4"/>
<text x="1439.50" y="388.47" font-size="17.2" text-anchor="end" fill="#151515">Dictyoglomia</text>
<rect x="1442.60" y="381.27" width="2.20" height="1.40" fill="#707070"/>
<rect x="1455.80" y="390.61" width="103.20" height="18.88" fill="#d2efda"/>
<rect x="1558.50" y="390.61" width="103.40" height="18.88" fill="#d6f1de"/>
<text x="1439.50" y="406.56" font-size="17.2" text-anchor="end" fill="#151515">Unclassified_Bacteria</text>
<rect x="1442.60" y="399.35" width="2.20" height="1.40" fill="#707070"/>
<rect x="1455.80" y="408.69" width="103.20" height="18.89" fill="#c9edd5"/>
<rect x="1558.50" y="408.69" width="103.40" height="18.89" fill="#def5e5"/>
<text x="1439.50" y="424.64" font-size="17.2" text-anchor="end" fill="#151515">Unclassified_Chloroflexota</text>
<rect x="1442.60" y="417.44" width="2.20" height="1.40" fill="#707070"/>
<rect x="1455.80" y="426.78" width="103.20" height="18.88" fill="#c9edd5"/>
<rect x="1558.50" y="426.78" width="103.40" height="18.88" fill="#def5e5"/>
<text x="1439.50" y="442.73" font-size="17.2" text-anchor="end" fill="#151515">Fervidibacteria</text>
<rect x="1442.60" y="435.52" width="2.20" height="1.40" fill="#707070"/>
<rect x="1455.80" y="444.86" width="103.20" height="18.88" fill="#d2efda"/>
<rect x="1558.50" y="444.86" width="103.40" height="18.88" fill="#def5e5"/>
<text x="1439.50" y="460.81" font-size="17.2" text-anchor="end" fill="#151515">Thermodesulfobacteria</text>
<rect x="1442.60" y="453.61" width="2.20" height="1.40" fill="#707070"/>
<rect x="1455.80" y="462.95" width="103.20" height="18.89" fill="#d3f0db"/>
<rect x="1558.50" y="462.95" width="103.40" height="18.89" fill="#def5e5"/>
<text x="1439.50" y="478.90" font-size="17.2" text-anchor="end" fill="#151515">Omnitrophia</text>
<rect x="1442.60" y="471.69" width="2.20" height="1.40" fill="#707070"/>
<rect x="1455.80" y="481.03" width="103.20" height="18.88" fill="#d8f2e0"/>
<rect x="1558.50" y="481.03" width="103.40" height="18.88" fill="#d9f3e1"/>
<text x="1439.50" y="496.98" font-size="17.2" text-anchor="end" fill="#151515">Chthonomonadetes</text>
<rect x="1442.60" y="489.78" width="2.20" height="1.40" fill="#707070"/>
<rect x="1455.80" y="499.12" width="103.20" height="18.88" fill="#d5f1dd"/>
<rect x="1558.50" y="499.12" width="103.40" height="18.88" fill="#def5e5"/>
<text x="1439.50" y="515.07" font-size="17.2" text-anchor="end" fill="#151515">Thermodesulfovibrionia</text>
<rect x="1442.60" y="507.86" width="2.20" height="1.40" fill="#707070"/>
<rect x="1455.80" y="517.20" width="103.20" height="18.88" fill="#dbf4e3"/>
<rect x="1558.50" y="517.20" width="103.40" height="18.88" fill="#d8f2e0"/>
<text x="1439.50" y="533.15" font-size="17.2" text-anchor="end" fill="#151515">Alphaproteobacteria</text>
<rect x="1442.60" y="525.95" width="2.20" height="1.40" fill="#707070"/>
<rect x="1455.80" y="535.29" width="103.20" height="18.88" fill="#d3f0db"/>
<rect x="1558.50" y="535.29" width="103.40" height="18.88" fill="#def5e5"/>
<text x="1439.50" y="551.24" font-size="17.2" text-anchor="end" fill="#151515">Ca. GAL15</text>
<rect x="1442.60" y="544.03" width="2.20" height="1.40" fill="#707070"/>
<rect x="1455.80" y="553.38" width="103.20" height="18.88" fill="#dcf4e4"/>
<rect x="1558.50" y="553.38" width="103.40" height="18.88" fill="#d6f1de"/>
<text x="1439.50" y="569.32" font-size="17.2" text-anchor="end" fill="#151515">Leptospirae</text>
<rect x="1442.60" y="562.12" width="2.20" height="1.40" fill="#707070"/>
<rect x="1455.80" y="571.46" width="103.20" height="18.88" fill="#d6f1de"/>
<rect x="1558.50" y="571.46" width="103.40" height="18.88" fill="#def5e5"/>
<text x="1439.50" y="587.41" font-size="17.2" text-anchor="end" fill="#151515">Unclassified_Planctomycetota</text>
<rect x="1442.60" y="580.20" width="2.20" height="1.40" fill="#707070"/>
<rect x="1455.80" y="589.54" width="103.20" height="18.88" fill="#d8f2e0"/>
<rect x="1558.50" y="589.54" width="103.40" height="18.88" fill="#def5e5"/>
<text x="1439.50" y="605.49" font-size="17.2" text-anchor="end" fill="#151515">Thermoanaerobacteria</text>
<rect x="1442.60" y="598.29" width="2.20" height="1.40" fill="#707070"/>
<rect x="1455.80" y="607.63" width="103.20" height="18.88" fill="#d8f2e0"/>
<rect x="1558.50" y="607.63" width="103.40" height="18.88" fill="#def5e5"/>
<text x="1439.50" y="623.58" font-size="17.2" text-anchor="end" fill="#151515">Rhodothermia</text>
<rect x="1442.60" y="616.37" width="2.20" height="1.40" fill="#707070"/>
<rect x="1455.80" y="625.71" width="103.20" height="18.09" fill="#dbf4e3"/>
<rect x="1558.50" y="625.71" width="103.40" height="18.09" fill="#dbf3e2"/>
<text x="1439.50" y="641.66" font-size="17.2" text-anchor="end" fill="#151515">Acidobacteriae</text>
<rect x="1442.60" y="634.46" width="2.20" height="1.40" fill="#707070"/>
<defs><linearGradient id="g1" x1="0" y1="0" x2="0" y2="1"><stop offset="0.000" stop-color="#0b0405"/><stop offset="0.025" stop-color="#13090f"/><stop offset="0.050" stop-color="#1a0e19"/><stop offset="0.075" stop-color="#221425"/><stop offset="0.100" stop-color="#291930"/><stop offset="0.125" stop-color="#2e1e3b"/><stop offset="0.150" stop-color="#342548"/><stop offset="0.175" stop-color="#382a54"/><stop offset="0.200" stop-color="#3c3162"/><stop offset="0.225" stop-color="#3f366f"/><stop offset="0.250" stop-color="#413e7d"/><stop offset="0.275" stop-color="#414387"/><stop offset="0.300" stop-color="#3f4b90"/><stop offset="0.325" stop-color="#3c5397"/><stop offset="0.350" stop-color="#3a5c9b"/><stop offset="0.375" stop-color="#38639d"/><stop offset="0.400" stop-color="#366b9f"/><stop offset="0.425" stop-color="#3573a1"/><stop offset="0.450" stop-color="#357aa2"/><stop offset="0.475" stop-color="#3482a4"/><stop offset="0.500" stop-color="#3488a6"/><stop offset="0.525" stop-color="#3490a8"/><stop offset="0.550" stop-color="#3497a9"/><stop offset="0.575" stop-color="#359fab"/><stop offset="0.600" stop-color="#37a5ac"/><stop offset="0.625" stop-color="#39acac"/><stop offset="0.650" stop-color="#3db3ad"/><stop offset="0.675" stop-color="#42b9ad"/><stop offset="0.700" stop-color="#47bfad"/><stop offset="0.725" stop-color="#4fc5ad"/><stop offset="0.750" stop-color="#59ccad"/><stop offset="0.775" stop-color="#68d1ad"/><stop offset="0.800" stop-color="#79d6ae"/><stop offset="0.825" stop-color="#88d9b1"/><stop offset="0.850" stop-color="#96ddb5"/><stop offset="0.875" stop-color="#a6e1bc"/><stop offset="0.900" stop-color="#b2e4c2"/><stop offset="0.925" stop-color="#bee8ca"/><stop offset="0.950" stop-color="#caedd4"/><stop offset="0.975" stop-color="#d4f1dc"/><stop offset="1.000" stop-color="#def5e5"/></linearGradient></defs>
<rect x="1688.10" y="334.40" width="16.10" height="101.60" fill="url(#g1)"/>
<text x="1688.25" y="323.75" font-size="17.14" text-anchor="start" fill="#151515">Abundance</text>
<text x="1713.60" y="349.74" font-size="17.14" text-anchor="start" fill="#151515">0.5</text>
<rect x="1688.10" y="343.10" width="3.20" height="1.00" fill="#ffffff" fill-opacity="0.45"/>
<rect x="1701.00" y="343.10" width="3.20" height="1.00" fill="#ffffff" fill-opacity="0.45"/>
<text x="1713.60" y="365.34" font-size="17.14" text-anchor="start" fill="#151515">0.4</text>
<rect x="1688.10" y="358.70" width="3.20" height="1.00" fill="#ffffff" fill-opacity="0.45"/>
<rect x="1701.00" y="358.70" width="3.20" height="1.00" fill="#ffffff" fill-opacity="0.45"/>
<text x="1713.60" y="382.54" font-size="17.14" text-anchor="start" fill="#151515">0.3</text>
<rect x="1688.10" y="375.90" width="3.20" height="1.00" fill="#ffffff" fill-opacity="0.45"/>
<rect x="1701.00" y="375.90" width="3.20" height="1.00" fill="#ffffff" fill-opacity="0.45"/>
<text x="1713.60" y="400.44" font-size="17.14" text-anchor="start" fill="#151515">0.2</text>
<rect x="1688.10" y="393.80" width="3.20" height="1.00" fill="#ffffff" fill-opacity="0.45"/>
<rect x="1701.00" y="393.80" width="3.20" height="1.00" fill="#ffffff" fill-opacity="0.45"/>
<text x="1713.60" y="420.44" font-size="17.14" text-anchor="start" fill="#151515">0.1</text>
<rect x="1688.10" y="413.80" width="3.20" height="1.00" fill="#ffffff" fill-opacity="0.45"/>
<rect x="1701.00" y="413.80" width="3.20" height="1.00" fill="#ffffff" fill-opacity="0.45"/>
<text x="1713.60" y="442.34" font-size="17.14" text-anchor="start" fill="#151515">0.0</text>
<rect x="1451.25" y="780.50" width="99.75" height="40.75" fill="#d9d9d9"/>
<rect x="1556.50" y="780.50" width="98.25" height="40.75" fill="#d9d9d9"/>
<text x="1501.12" y="798.00" font-size="17.3" text-anchor="middle" fill="#151515">Green</text>
<text x="1501.12" y="816.25" font-size="17.3" text-anchor="middle" fill="#151515">Biofilm</text>
<text x="1605.62" y="798.00" font-size="17.3" text-anchor="middle" fill="#151515">Brown</text>
<text x="1605.62" y="814.60" font-size="17.3" text-anchor="middle" fill="#151515">Biofilm</text>
<rect x="1449.50" y="843.00" width="105.75" height="32.54" fill="#1c0f19"/>
<rect x="1554.75" y="843.00" width="106.00" height="32.54" fill="#0e0607"/>
<text x="1433.25" y="865.79" font-size="17.25" text-anchor="end" fill="#151515">Nitrososphaeria</text>
<rect x="1436.20" y="858.57" width="2.30" height="1.40" fill="#707070"/>
<rect x="1449.50" y="874.74" width="105.75" height="32.54" fill="#3dafae"/>
<rect x="1554.75" y="874.74" width="106.00" height="32.54" fill="#d3f0db"/>
<text x="1433.25" y="897.53" font-size="17.25" text-anchor="end" fill="#151515">Unclassified_Archaea</text>
<rect x="1436.20" y="890.30" width="2.30" height="1.40" fill="#707070"/>
<rect x="1449.50" y="906.47" width="105.75" height="32.54" fill="#ccedd6"/>
<rect x="1554.75" y="906.47" width="106.00" height="32.54" fill="#97dcb8"/>
<text x="1433.25" y="929.26" font-size="17.25" text-anchor="end" fill="#151515">Thermoprotei</text>
<rect x="1436.20" y="922.04" width="2.30" height="1.40" fill="#707070"/>
<rect x="1449.50" y="938.21" width="105.75" height="32.54" fill="#d8f2e0"/>
<rect x="1554.75" y="938.21" width="106.00" height="32.54" fill="#93dab5"/>
<text x="1433.25" y="961.00" font-size="17.25" text-anchor="end" fill="#151515">Bathyarchaeia</text>
<rect x="1436.20" y="953.77" width="2.30" height="1.40" fill="#707070"/>
<rect x="1449.50" y="969.94" width="105.75" height="32.54" fill="#dcf4e3"/>
<rect x="1554.75" y="969.94" width="106.00" height="32.54" fill="#d2efda"/>
<text x="1433.25" y="992.73" font-size="17.25" text-anchor="end" fill="#151515">Hadarchaeia</text>
<rect x="1436.20" y="985.51" width="2.30" height="1.40" fill="#707070"/>
<rect x="1449.50" y="1001.68" width="105.75" height="32.54" fill="#dcf4e3"/>
<rect x="1554.75" y="1001.68" width="106.00" height="32.54" fill="#d2efda"/>
<text x="1433.25" y="1024.47" font-size="17.25" text-anchor="end" fill="#151515">Unclassified_Crenarchaeota</text>
<rect x="1436.20" y="1017.24" width="2.30" height="1.40" fill="#707070"/>
<rect x="1449.50" y="1033.41" width="105.75" height="32.54" fill="#dcf4e3"/>
<rect x="1554.75" y="1033.41" width="106.00" height="32.54" fill="#dbf4e3"/>
<text x="1433.25" y="1056.20" font-size="17.25" text-anchor="end" fill="#151515">Methanobacteria</text>
<rect x="1436.20" y="1048.98" width="2.30" height="1.40" fill="#707070"/>
<rect x="1449.50" y="1065.15" width="105.75" height="32.54" fill="#dcf4e3"/>
<rect x="1554.75" y="1065.15" width="106.00" height="32.54" fill="#d9f3e1"/>
<text x="1433.25" y="1087.94" font-size="17.25" text-anchor="end" fill="#151515">Aenigmarchaeia</text>
<rect x="1436.20" y="1080.71" width="2.30" height="1.40" fill="#707070"/>
<rect x="1449.50" y="1096.88" width="105.75" height="32.54" fill="#dcf4e3"/>
<rect x="1554.75" y="1096.88" width="106.00" height="32.54" fill="#dbf4e3"/>
<text x="1433.25" y="1119.67" font-size="17.25" text-anchor="end" fill="#151515">Archaeoglobi</text>
<rect x="1436.20" y="1112.45" width="2.30" height="1.40" fill="#707070"/>
<rect x="1449.50" y="1128.62" width="105.75" height="32.54" fill="#dcf4e3"/>
<rect x="1554.75" y="1128.62" width="106.00" height="32.54" fill="#dbf4e3"/>
<text x="1433.25" y="1151.41" font-size="17.25" text-anchor="end" fill="#151515">Korarchaeia</text>
<rect x="1436.20" y="1144.19" width="2.30" height="1.40" fill="#707070"/>
<rect x="1449.50" y="1160.35" width="105.75" height="32.54" fill="#dcf4e3"/>
<rect x="1554.75" y="1160.35" width="106.00" height="32.54" fill="#dbf4e3"/>
<text x="1433.25" y="1183.14" font-size="17.25" text-anchor="end" fill="#151515">Methanomethylicia</text>
<rect x="1436.20" y="1175.92" width="2.30" height="1.40" fill="#707070"/>
<rect x="1449.50" y="1192.09" width="105.75" height="32.54" fill="#dcf4e3"/>
<rect x="1554.75" y="1192.09" width="106.00" height="32.54" fill="#dbf4e3"/>
<text x="1433.25" y="1214.88" font-size="17.25" text-anchor="end" fill="#151515">Nanoarchaeia</text>
<rect x="1436.20" y="1207.66" width="2.30" height="1.40" fill="#707070"/>
<rect x="1449.50" y="1223.82" width="105.75" height="32.54" fill="#dcf4e3"/>
<rect x="1554.75" y="1223.82" width="106.00" height="32.54" fill="#dbf4e3"/>
<text x="1433.25" y="1246.61" font-size="17.25" text-anchor="end" fill="#151515">Micrarchaeia</text>
<rect x="1436.20" y="1239.39" width="2.30" height="1.40" fill="#707070"/>
<rect x="1449.50" y="1255.56" width="105.75" height="32.54" fill="#dcf4e3"/>
<rect x="1554.75" y="1255.56" width="106.00" height="32.54" fill="#dbf4e3"/>
<text x="1433.25" y="1278.35" font-size="17.25" text-anchor="end" fill="#151515">Thermoplasmata</text>
<rect x="1436.20" y="1271.13" width="2.30" height="1.40" fill="#707070"/>
<rect x="1449.50" y="1287.29" width="105.75" height="32.54" fill="#dcf4e3"/>
<rect x="1554.75" y="1287.29" width="106.00" height="32.54" fill="#dbf4e3"/>
<text x="1433.25" y="1310.09" font-size="17.25" text-anchor="end" fill="#151515">Unclassified_Aenigmarchaeota</text>
<rect x="1436.20" y="1302.86" width="2.30" height="1.40" fill="#707070"/>
<rect x="1449.50" y="1319.03" width="105.75" height="32.54" fill="#dcf4e3"/>
<rect x="1554.75" y="1319.03" width="106.00" height="32.54" fill="#dbf4e3"/>
<text x="1433.25" y="1341.82" font-size="17.25" text-anchor="end" fill="#151515">Iainarchaeia</text>
<rect x="1436.20" y="1334.60" width="2.30" height="1.40" fill="#707070"/>
<rect x="1449.50" y="1350.76" width="105.75" height="31.74" fill="#dcf4e3"/>
<rect x="1554.75" y="1350.76" width="106.00" height="31.74" fill="#dbf4e3"/>
<text x="1433.25" y="1373.56" font-size="17.25" text-anchor="end" fill="#151515">Methanocellia</text>
<rect x="1436.20" y="1366.33" width="2.30" height="1.40" fill="#707070"/>
<defs><linearGradient id="g2" x1="0" y1="0" x2="0" y2="1"><stop offset="0.000" stop-color="#0b0405"/><stop offset="0.025" stop-color="#13090f"/><stop offset="0.050" stop-color="#1a0e19"/><stop offset="0.075" stop-color="#211423"/><stop offset="0.100" stop-color="#28192e"/><stop offset="0.125" stop-color="#2e1e39"/><stop offset="0.150" stop-color="#332345"/><stop offset="0.175" stop-color="#372851"/><stop offset="0.200" stop-color="#3b2f5f"/><stop offset="0.225" stop-color="#3e356b"/><stop offset="0.250" stop-color="#403b78"/><stop offset="0.275" stop-color="#414184"/><stop offset="0.300" stop-color="#40498e"/><stop offset="0.325" stop-color="#3d5195"/><stop offset="0.350" stop-color="#3a599a"/><stop offset="0.375" stop-color="#38629d"/><stop offset="0.400" stop-color="#366a9f"/><stop offset="0.425" stop-color="#3572a1"/><stop offset="0.450" stop-color="#357aa2"/><stop offset="0.475" stop-color="#3480a4"/><stop offset="0.500" stop-color="#3488a6"/><stop offset="0.525" stop-color="#348fa7"/><stop offset="0.550" stop-color="#3497a9"/><stop offset="0.575" stop-color="#359eaa"/><stop offset="0.600" stop-color="#36a4ab"/><stop offset="0.625" stop-color="#39acac"/><stop offset="0.650" stop-color="#3db3ad"/><stop offset="0.675" stop-color="#43baad"/><stop offset="0.700" stop-color="#49c1ad"/><stop offset="0.725" stop-color="#50c6ad"/><stop offset="0.750" stop-color="#5bcdad"/><stop offset="0.775" stop-color="#68d1ad"/><stop offset="0.800" stop-color="#76d5ae"/><stop offset="0.825" stop-color="#88d9b1"/><stop offset="0.850" stop-color="#96ddb5"/><stop offset="0.875" stop-color="#a6e1bc"/><stop offset="0.900" stop-color="#b2e4c2"/><stop offset="0.925" stop-color="#bee8ca"/><stop offset="0.950" stop-color="#caedd4"/><stop offset="0.975" stop-color="#d4f1dc"/><stop offset="1.000" stop-color="#def5e5"/></linearGradient></defs>
<rect x="1687.50" y="1075.00" width="16.25" height="100.75" fill="url(#g2)"/>
<text x="1687.50" y="1064.10" font-size="17.14" text-anchor="start" fill="#151515">Abundance</text>
<text x="1712.50" y="1100.64" font-size="17.14" text-anchor="start" fill="#151515">0.6</text>
<rect x="1687.50" y="1094.00" width="3.20" height="1.00" fill="#ffffff" fill-opacity="0.45"/>
<rect x="1700.55" y="1094.00" width="3.20" height="1.00" fill="#ffffff" fill-opacity="0.45"/>
<text x="1712.50" y="1124.39" font-size="17.14" text-anchor="start" fill="#151515">0.4</text>
<rect x="1687.50" y="1117.75" width="3.20" height="1.00" fill="#ffffff" fill-opacity="0.45"/>
<rect x="1700.55" y="1117.75" width="3.20" height="1.00" fill="#ffffff" fill-opacity="0.45"/>
<text x="1712.50" y="1150.64" font-size="17.14" text-anchor="start" fill="#151515">0.2</text>
<rect x="1687.50" y="1144.00" width="3.20" height="1.00" fill="#ffffff" fill-opacity="0.45"/>
<rect x="1700.55" y="1144.00" width="3.20" height="1.00" fill="#ffffff" fill-opacity="0.45"/>
<text x="1712.50" y="1183.14" font-size="17.14" text-anchor="start" fill="#151515">0.0</text>
<rect x="1455.75" y="1534.50" width="99.50" height="41.25" fill="#d9d9d9"/>
<rect x="1560.75" y="1534.50" width="98.25" height="41.25" fill="#d9d9d9"/>
<text x="1505.50" y="1552.00" font-size="17.3" text-anchor="middle" fill="#151515">Green</text>
<text x="1505.50" y="1570.25" font-size="17.3" text-anchor="middle" fill="#151515">Biofilm</text>
<text x="1609.88" y="1552.00" font-size="17.3" text-anchor="middle" fill="#151515">Brown</text>
<text x="1609.88" y="1568.60" font-size="17.3" text-anchor="middle" fill="#151515">Biofilm</text>
<rect x="1455.75" y="1594.25" width="103.75" height="18.85" fill="#0e0608"/>
<rect x="1559.00" y="1594.25" width="103.25" height="18.85" fill="#386ca0"/>
<text x="1440.00" y="1610.18" font-size="17.2" text-anchor="end" fill="#151515">Unclassified_Phragmoplastophyta</text>
<rect x="1442.60" y="1602.98" width="2.20" height="1.40" fill="#707070"/>
<rect x="1455.75" y="1612.30" width="103.75" height="18.85" fill="#2f1d39"/>
<rect x="1559.00" y="1612.30" width="103.25" height="18.85" fill="#40498e"/>
<text x="1440.00" y="1628.23" font-size="17.2" text-anchor="end" fill="#151515">Dothideomycetes</text>
<rect x="1442.60" y="1621.03" width="2.20" height="1.40" fill="#707070"/>
<rect x="1455.75" y="1630.35" width="103.75" height="18.85" fill="#3aacad"/>
<rect x="1559.00" y="1630.35" width="103.25" height="18.85" fill="#3677a2"/>
<text x="1440.00" y="1646.28" font-size="17.2" text-anchor="end" fill="#151515">Agaricomycetes</text>
<rect x="1442.60" y="1639.08" width="2.20" height="1.40" fill="#707070"/>
<rect x="1455.75" y="1648.40" width="103.75" height="18.85" fill="#3585a5"/>
<rect x="1559.00" y="1648.40" width="103.25" height="18.85" fill="#9edfb8"/>
<text x="1440.00" y="1664.33" font-size="17.2" text-anchor="end" fill="#151515">Unclassified_Eukaryota</text>
<rect x="1442.60" y="1657.12" width="2.20" height="1.40" fill="#707070"/>
<rect x="1455.75" y="1666.45" width="103.75" height="18.85" fill="#ade3c0"/>
<rect x="1559.00" y="1666.45" width="103.25" height="18.85" fill="#3497a9"/>
<text x="1440.00" y="1682.38" font-size="17.2" text-anchor="end" fill="#151515">Unclassified_Ascomycota</text>
<rect x="1442.60" y="1675.17" width="2.20" height="1.40" fill="#707070"/>
<rect x="1455.75" y="1684.50" width="103.75" height="18.85" fill="#40b7ad"/>
<rect x="1559.00" y="1684.50" width="103.25" height="18.85" fill="#60ceac"/>
<text x="1440.00" y="1700.43" font-size="17.2" text-anchor="end" fill="#151515">Sordariomycetes</text>
<rect x="1442.60" y="1693.23" width="2.20" height="1.40" fill="#707070"/>
<rect x="1455.75" y="1702.55" width="103.75" height="18.85" fill="#55c9ad"/>
<rect x="1559.00" y="1702.55" width="103.25" height="18.85" fill="#85d7b1"/>
<text x="1440.00" y="1718.48" font-size="17.2" text-anchor="end" fill="#151515">Eurotiomycetes</text>
<rect x="1442.60" y="1711.28" width="2.20" height="1.40" fill="#707070"/>
<rect x="1455.75" y="1720.60" width="103.75" height="18.85" fill="#daf3e2"/>
<rect x="1559.00" y="1720.60" width="103.25" height="18.85" fill="#5dcdad"/>
<text x="1440.00" y="1736.53" font-size="17.2" text-anchor="end" fill="#151515">Malasseziomycetes</text>
<rect x="1442.60" y="1729.33" width="2.20" height="1.40" fill="#707070"/>
<rect x="1455.75" y="1738.65" width="103.75" height="18.85" fill="#b5e6c7"/>
<rect x="1559.00" y="1738.65" width="103.25" height="18.85" fill="#b2e5c5"/>
<text x="1440.00" y="1754.58" font-size="17.2" text-anchor="end" fill="#151515">Trebouxiophyceae</text>
<rect x="1442.60" y="1747.38" width="2.20" height="1.40" fill="#707070"/>
<rect x="1455.75" y="1756.70" width="103.75" height="18.85" fill="#8cd9b3"/>
<rect x="1559.00" y="1756.70" width="103.25" height="18.85" fill="#d5f1dc"/>
<text x="1440.00" y="1772.63" font-size="17.2" text-anchor="end" fill="#151515">Insecta</text>
<rect x="1442.60" y="1765.42" width="2.20" height="1.40" fill="#707070"/>
<rect x="1455.75" y="1774.75" width="103.75" height="18.85" fill="#d8f2e0"/>
<rect x="1559.00" y="1774.75" width="103.25" height="18.85" fill="#8cd9b3"/>
<text x="1440.00" y="1790.68" font-size="17.2" text-anchor="end" fill="#151515">Unclassified_Ciliophora</text>
<rect x="1442.60" y="1783.48" width="2.20" height="1.40" fill="#707070"/>
<rect x="1455.75" y="1792.80" width="103.75" height="18.85" fill="#daf3e2"/>
<rect x="1559.00" y="1792.80" width="103.25" height="18.85" fill="#98dcb7"/>
<text x="1440.00" y="1808.73" font-size="17.2" text-anchor="end" fill="#151515">Ulvophyceae</text>
<rect x="1442.60" y="1801.53" width="2.20" height="1.40" fill="#707070"/>
<rect x="1455.75" y="1810.85" width="103.75" height="18.85" fill="#dbf4e3"/>
<rect x="1559.00" y="1810.85" width="103.25" height="18.85" fill="#a2e0bb"/>
<text x="1440.00" y="1826.78" font-size="17.2" text-anchor="end" fill="#151515">Arachnida</text>
<rect x="1442.60" y="1819.58" width="2.20" height="1.40" fill="#707070"/>
<rect x="1455.75" y="1828.90" width="103.75" height="18.85" fill="#dbf4e3"/>
<rect x="1559.00" y="1828.90" width="103.25" height="18.85" fill="#b5e6c7"/>
<text x="1440.00" y="1844.83" font-size="17.2" text-anchor="end" fill="#151515">Bdelloidea</text>
<rect x="1442.60" y="1837.62" width="2.20" height="1.40" fill="#707070"/>
<rect x="1455.75" y="1846.95" width="103.75" height="18.85" fill="#d8f2e0"/>
<rect x="1559.00" y="1846.95" width="103.25" height="18.85" fill="#bde9cc"/>
<text x="1440.00" y="1862.88" font-size="17.2" text-anchor="end" fill="#151515">Ellipura</text>
<rect x="1442.60" y="1855.67" width="2.20" height="1.40" fill="#707070"/>
<rect x="1455.75" y="1865.00" width="103.75" height="18.85" fill="#d4f0dc"/>
<rect x="1559.00" y="1865.00" width="103.25" height="18.85" fill="#caedd5"/>
<text x="1440.00" y="1880.93" font-size="17.2" text-anchor="end" fill="#151515">Lecanoromycetes</text>
<rect x="1442.60" y="1873.73" width="2.20" height="1.40" fill="#707070"/>
<rect x="1455.75" y="1883.05" width="103.75" height="18.85" fill="#d8f2e0"/>
<rect x="1559.00" y="1883.05" width="103.25" height="18.85" fill="#cdeed7"/>
<text x="1440.00" y="1898.98" font-size="17.2" text-anchor="end" fill="#151515">Enoplea</text>
<rect x="1442.60" y="1891.78" width="2.20" height="1.40" fill="#707070"/>
<rect x="1455.75" y="1901.10" width="103.75" height="18.85" fill="#d8f2e0"/>
<rect x="1559.00" y="1901.10" width="103.25" height="18.85" fill="#cdeed7"/>
<text x="1440.00" y="1917.03" font-size="17.2" text-anchor="end" fill="#151515">Mammalia</text>
<rect x="1442.60" y="1909.83" width="2.20" height="1.40" fill="#707070"/>
<rect x="1455.75" y="1919.15" width="103.75" height="18.85" fill="#d8f2e0"/>
<rect x="1559.00" y="1919.15" width="103.25" height="18.85" fill="#cdeed7"/>
<text x="1440.00" y="1935.08" font-size="17.2" text-anchor="end" fill="#151515">Dinophyceae</text>
<rect x="1442.60" y="1927.88" width="2.20" height="1.40" fill="#707070"/>
<rect x="1455.75" y="1937.20" width="103.75" height="18.85" fill="#d8f2e0"/>
<rect x="1559.00" y="1937.20" width="103.25" height="18.85" fill="#cbedd6"/>
<text x="1440.00" y="1953.13" font-size="17.2" text-anchor="end" fill="#151515">Maxillopoda</text>
<rect x="1442.60" y="1945.92" width="2.20" height="1.40" fill="#707070"/>
<rect x="1455.75" y="1955.25" width="103.75" height="18.85" fill="#d8f2e0"/>
<rect x="1559.00" y="1955.25" width="103.25" height="18.85" fill="#c9ecd4"/>
<text x="1440.00" y="1971.18" font-size="17.2" text-anchor="end" fill="#151515">Eutardigrada</text>
<rect x="1442.60" y="1963.98" width="2.20" height="1.40" fill="#707070"/>
<rect x="1455.75" y="1973.30" width="103.75" height="18.85" fill="#d2efda"/>
<rect x="1559.00" y="1973.30" width="103.25" height="18.85" fill="#d2efda"/>
<text x="1440.00" y="1989.23" font-size="17.2" text-anchor="end" fill="#151515">Unclassified_Mucoromycota</text>
<rect x="1442.60" y="1982.03" width="2.20" height="1.40" fill="#707070"/>
<rect x="1455.75" y="1991.35" width="103.75" height="18.85" fill="#d6f1de"/>
<rect x="1559.00" y="1991.35" width="103.25" height="18.85" fill="#d0eed8"/>
<text x="1440.00" y="2007.28" font-size="17.2" text-anchor="end" fill="#151515">Ustilaginomycetes</text>
<rect x="1442.60" y="2000.08" width="2.20" height="1.40" fill="#707070"/>
<rect x="1455.75" y="2009.40" width="103.75" height="18.85" fill="#d8f2e0"/>
<rect x="1559.00" y="2009.40" width="103.25" height="18.85" fill="#d0eed8"/>
<text x="1440.00" y="2025.33" font-size="17.2" text-anchor="end" fill="#151515">Mediophyceae</text>
<rect x="1442.60" y="2018.12" width="2.20" height="1.40" fill="#707070"/>
<rect x="1455.75" y="2027.45" width="103.75" height="18.85" fill="#d6f1de"/>
<rect x="1559.00" y="2027.45" width="103.25" height="18.85" fill="#d2efda"/>
<text x="1440.00" y="2043.38" font-size="17.2" text-anchor="end" fill="#151515">Chrysophyceae</text>
<rect x="1442.60" y="2036.17" width="2.20" height="1.40" fill="#707070"/>
<rect x="1455.75" y="2045.50" width="103.75" height="18.85" fill="#d4f0dc"/>
<rect x="1559.00" y="2045.50" width="103.25" height="18.85" fill="#d4f0dc"/>
<text x="1440.00" y="2061.43" font-size="17.2" text-anchor="end" fill="#151515">Chytridiomycetes</text>
<rect x="1442.60" y="2054.22" width="2.20" height="1.40" fill="#707070"/>
<rect x="1455.75" y="2063.55" width="103.75" height="18.85" fill="#d6f1de"/>
<rect x="1559.00" y="2063.55" width="103.25" height="18.85" fill="#d2efda"/>
<text x="1440.00" y="2079.48" font-size="17.2" text-anchor="end" fill="#151515">Conoidasida</text>
<rect x="1442.60" y="2072.27" width="2.20" height="1.40" fill="#707070"/>
<rect x="1455.75" y="2081.60" width="103.75" height="18.85" fill="#d6f1de"/>
<rect x="1559.00" y="2081.60" width="103.25" height="18.85" fill="#d2efda"/>
<text x="1440.00" y="2097.53" font-size="17.2" text-anchor="end" fill="#151515">Syndiniales</text>
<rect x="1442.60" y="2090.32" width="2.20" height="1.40" fill="#707070"/>
<rect x="1455.75" y="2099.65" width="103.75" height="18.85" fill="#d6f1de"/>
<rect x="1559.00" y="2099.65" width="103.25" height="18.85" fill="#d4f0dc"/>
<text x="1440.00" y="2115.58" font-size="17.2" text-anchor="end" fill="#151515">Saccharomycetes</text>
<rect x="1442.60" y="2108.38" width="2.20" height="1.40" fill="#707070"/>
<rect x="1455.75" y="2117.70" width="103.75" height="18.05" fill="#d6f1de"/>
<rect x="1559.00" y="2117.70" width="103.25" height="18.05" fill="#d6f1de"/>
<text x="1440.00" y="2133.63" font-size="17.2" text-anchor="end" fill="#151515">Exobasidiomycetes</text>
<rect x="1442.60" y="2126.42" width="2.20" height="1.40" fill="#707070"/>
<defs><linearGradient id="g3" x1="0" y1="0" x2="0" y2="1"><stop offset="0.000" stop-color="#0b0405"/><stop offset="0.025" stop-color="#12080d"/><stop offset="0.050" stop-color="#190e18"/><stop offset="0.075" stop-color="#1f1220"/><stop offset="0.100" stop-color="#26172b"/><stop offset="0.125" stop-color="#2b1c35"/><stop offset="0.150" stop-color="#312140"/><stop offset="0.175" stop-color="#35254a"/><stop offset="0.200" stop-color="#392b56"/><stop offset="0.225" stop-color="#3c3060"/><stop offset="0.250" stop-color="#3f366d"/><stop offset="0.275" stop-color="#403b78"/><stop offset="0.300" stop-color="#414184"/><stop offset="0.325" stop-color="#40488d"/><stop offset="0.350" stop-color="#3e5095"/><stop offset="0.375" stop-color="#3b5799"/><stop offset="0.400" stop-color="#385f9c"/><stop offset="0.425" stop-color="#37669e"/><stop offset="0.450" stop-color="#366fa0"/><stop offset="0.475" stop-color="#3575a1"/><stop offset="0.500" stop-color="#357da3"/><stop offset="0.525" stop-color="#3484a5"/><stop offset="0.550" stop-color="#348ca7"/><stop offset="0.575" stop-color="#3493a8"/><stop offset="0.600" stop-color="#349aaa"/><stop offset="0.625" stop-color="#36a2ab"/><stop offset="0.650" stop-color="#38a9ac"/><stop offset="0.675" stop-color="#3bafad"/><stop offset="0.700" stop-color="#3fb6ad"/><stop offset="0.725" stop-color="#46bead"/><stop offset="0.750" stop-color="#4dc4ad"/><stop offset="0.775" stop-color="#57cbad"/><stop offset="0.800" stop-color="#65d0ad"/><stop offset="0.825" stop-color="#76d5ae"/><stop offset="0.850" stop-color="#88d9b1"/><stop offset="0.875" stop-color="#9cdeb7"/><stop offset="0.900" stop-color="#abe2be"/><stop offset="0.925" stop-color="#b9e6c7"/><stop offset="0.950" stop-color="#c6ebd1"/><stop offset="0.975" stop-color="#d2f0db"/><stop offset="1.000" stop-color="#def5e5"/></linearGradient></defs>
<rect x="1688.75" y="1826.75" width="16.25" height="100.75" fill="url(#g3)"/>
<text x="1688.75" y="1815.60" font-size="17.14" text-anchor="start" fill="#151515">Abundance</text>
<text x="1714.25" y="1863.14" font-size="17.14" text-anchor="start" fill="#151515">0.2</text>
<rect x="1688.75" y="1856.50" width="3.20" height="1.00" fill="#ffffff" fill-opacity="0.45"/>
<rect x="1701.80" y="1856.50" width="3.20" height="1.00" fill="#ffffff" fill-opacity="0.45"/>
<text x="1714.25" y="1897.39" font-size="17.14" text-anchor="start" fill="#151515">0.1</text>
<rect x="1688.75" y="1890.75" width="3.20" height="1.00" fill="#ffffff" fill-opacity="0.45"/>
<rect x="1701.80" y="1890.75" width="3.20" height="1.00" fill="#ffffff" fill-opacity="0.45"/>
<text x="1714.25" y="1935.14" font-size="17.14" text-anchor="start" fill="#151515">0.0</text>
</svg>
</body></html>
